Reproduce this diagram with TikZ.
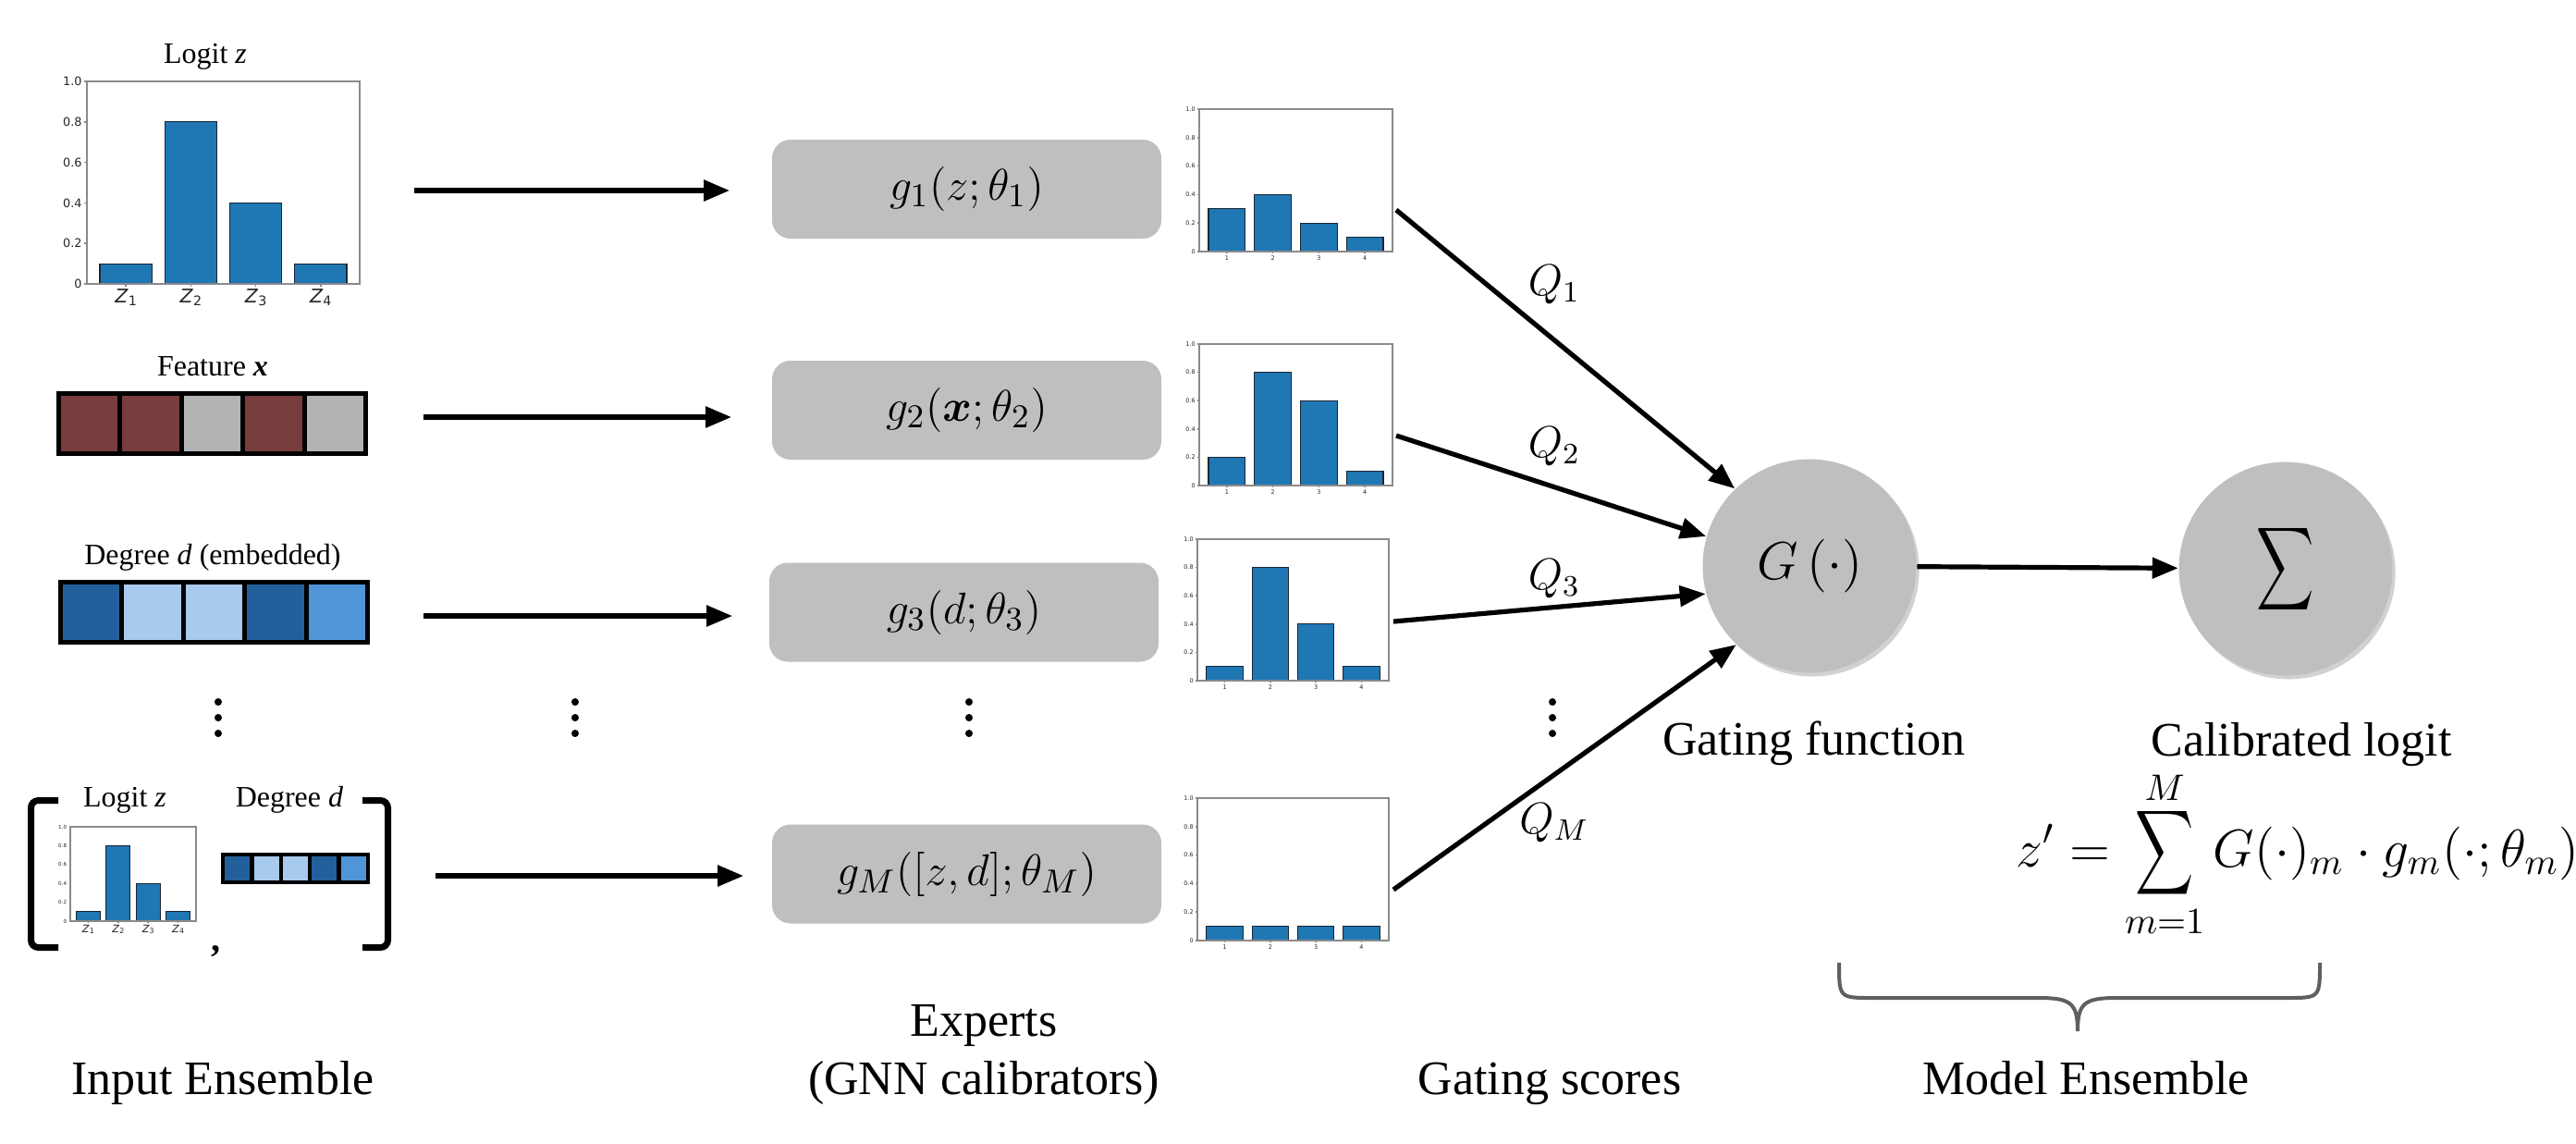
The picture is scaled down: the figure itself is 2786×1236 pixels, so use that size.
\documentclass[tikz,border=0pt]{standalone}
\usepackage{exscale}
\usepackage{amsmath}
\usepackage{bm}
\usepackage{fontspec}
\setmainfont{Liberation Serif}
\newfontfamily\tickfont{DejaVu Sans}
\usepackage{graphicx}
\usetikzlibrary{arrows.meta,shadows}
\definecolor{boxgray}{HTML}{BFBFBF}
\definecolor{barblue}{HTML}{1F77B4}
\definecolor{baredge}{HTML}{1B2633}
\definecolor{framegray}{HTML}{8A8A8A}
\definecolor{featred}{HTML}{7A3D3D}
\definecolor{cellgray}{HTML}{B3B3B3}
\definecolor{bdark}{HTML}{23609B}
\definecolor{blight}{HTML}{A8CAEC}
\definecolor{bmid}{HTML}{4F95D8}
\definecolor{bracegray}{HTML}{5F5F5F}
\newcommand{\zlab}[1]{\textit{Z}\raisebox{-0.3ex}{\scalebox{0.7}{#1}}}
\newcommand{\bigsum}[2]{\mathop{\vcenter{\hbox{\scalebox{#1}[#2]{$\displaystyle\sum$}}}}}
% #1 x-left #2 y-top #3 x-right #4 y-bottom #5 heights #6 xlabels #7 tick length #8 tick font #9 xlabel font
\newcommand{\barplot}[9]{%
  \pgfmathsetmacro\cXa{#1}\pgfmathsetmacro\cYa{#2}%
  \pgfmathsetmacro\cXb{#3}\pgfmathsetmacro\cYb{#4}%
  \pgfmathsetmacro\cBw{(\cXb-\cXa)/4.2}\pgfmathsetmacro\cBh{\cYb-\cYa}%
  \foreach \cH [count=\cI from 0] in {#5}{%
    \draw[barst] ({\cXa+(\cI+0.2)*\cBw},\cYb) rectangle ({\cXa+(\cI+1)*\cBw},{\cYb-\cH*\cBh});}%
  \draw[framest] (\cXa,\cYa) rectangle (\cXb,\cYb);%
  \foreach \cV/\cT in {0/0,0.2/0.2,0.4/0.4,0.6/0.6,0.8/0.8,1/1.0}{%
    \draw[framest] (\cXa,{\cYb-\cV*\cBh}) -- ++(-#7,0) node[left,inner sep=0.4pt,text=black!85,font={\tickfont#8}] {\cT};}%
  \foreach \cL [count=\cI from 0] in {#6}{%
    \draw[framest] ({\cXa+(\cI+0.6)*\cBw},\cYb) -- ++(0,#7) node[below,inner sep=0.4pt,text=black!85,font={\tickfont#9}] {\cL};}%
}
\begin{document}
\begin{tikzpicture}[x=0.25pt,y=-0.25pt,
  arr/.style={line width=1.3pt,-{Triangle[length=7pt,width=5.5pt]}},
  expert/.style={rectangle,rounded corners=5pt,fill=boxgray,minimum width=105.25pt,minimum height=26.75pt,inner sep=0pt,font=\fontsize{12.5}{14}\selectfont},
  gate/.style={circle,fill=boxgray,minimum size=57.75pt,inner sep=0pt,drop shadow={opacity=0.18,shadow xshift=0.8pt,shadow yshift=-1pt,fill=black}},
  lbl/.style={anchor=base,inner sep=0pt,font=\fontsize{13}{15.6}\selectfont},
  ttl/.style={anchor=base,inner sep=0pt,font=\fontsize{8}{9.6}\selectfont},
  qlbl/.style={inner sep=0pt,font=\fontsize{11.5}{13}\selectfont},
  barst/.style={fill=barblue,draw=baredge,line width=0.3pt},
  framest/.style={draw=framegray,line width=0.4pt},
  cellst/.style={draw=black,line width=1.25pt},
  smallcell/.style={draw=black,line width=1.1pt},
  bracketst/.style={draw=black,line width=1.75pt,rounded corners=2pt},
  bracest/.style={draw=bracegray,line width=1pt},
]
\useasboundingbox (0,0) rectangle (2786,1236);

% ---------------- Input column ----------------
\node[ttl] (tlogit) at (222,68) {Logit \textit{z}};
\barplot{94}{88}{389}{307}{0.1,0.8,0.4,0.1}{\zlab{1},\zlab{2},\zlab{3},\zlab{4}}{3}{\fontsize{3.2}{3.8}\selectfont}{\fontsize{5.1}{6}\selectfont}

\node[ttl] (tfeat) at (230,406) {Feature \textbf{\textit{x}}};
\foreach \col [count=\cI from 0] in {featred,featred,cellgray,featred,cellgray}
  \draw[cellst,fill=\col] ({63.5+66.4*\cI},425.5) rectangle ++(66.4,65);

\node[ttl] (tdeg) at (230,610) {Degree \textit{d} (embedded)};
\foreach \col [count=\cI from 0] in {bdark,blight,blight,bdark,bmid}
  \draw[cellst,fill=\col] ({65.5+66.4*\cI},629.5) rectangle ++(66.4,65);

% bottom concatenated input
\draw[bracketst] (63,865.5) -- (33.5,865.5) -- (33.5,1024.5) -- (63,1024.5);
\draw[bracketst] (392,865.5) -- (419.5,865.5) -- (419.5,1024.5) -- (392,1024.5);
\node[ttl] (tlogit2) at (135,872) {Logit \textit{z}};
\node[ttl] (tdeg2) at (313,872) {Degree \textit{d}};
\barplot{76}{894}{212}{996}{0.1,0.8,0.4,0.1}{\zlab{1},\zlab{2},\zlab{3},\zlab{4}}{1.5}{\fontsize{1.4}{1.7}\selectfont}{\fontsize{2.8}{3.3}\selectfont}
\foreach \col [count=\cI from 0] in {bdark,blight,blight,bdark,bmid}
  \draw[smallcell,fill=\col] ({241.25+31.3*\cI},924.25) rectangle ++(31.3,29.5);
\node[anchor=base,inner sep=0pt,font=\fontsize{10}{12}\selectfont] (comma) at (233,1028) {\textbf{,}};

% ---------------- Experts ----------------
\node[expert] (e1) at (1045.5,204.5) {$g_1(z;\theta_1)$};
\node[expert] (e2) at (1045.5,443.5) {$g_2(\bm{x};\theta_2)$};
\node[expert] (e3) at (1042.5,662) {$g_3(d;\theta_3)$};
\node[expert] (eM) at (1045.5,945) {$g_M([z,d];\theta_M)$};

\coordinate (a1s) at (448,206);
\coordinate (a2s) at (458,451);
\coordinate (a3s) at (458,666);
\coordinate (aMs) at (471,947);
\draw[arr,shorten >=11.25pt] (a1s) -- (a1s -| e1.west);
\draw[arr,shorten >=10.75pt] (a2s) -- (a2s -| e2.west);
\draw[arr,shorten >=9.75pt] (a3s) -- (a3s -| e3.west);
\draw[arr,shorten >=7.5pt] (aMs) -- (aMs -| eM.west);

% dots
\foreach \dx in {236,622,1048,1679}
  \foreach \dy in {759,776,793}
    \fill (\dx,\dy) circle[radius=4];

% ---------------- Gating scores ----------------
\barplot{1297}{118}{1506}{272}{0.3,0.4,0.2,0.1}{1,2,3,4}{2}{\fontsize{1.6}{2}\selectfont}{\fontsize{1.6}{2}\selectfont}
\barplot{1297}{372}{1506}{525}{0.2,0.8,0.6,0.1}{1,2,3,4}{2}{\fontsize{1.6}{2}\selectfont}{\fontsize{1.6}{2}\selectfont}
\barplot{1295}{583}{1502}{736}{0.1,0.8,0.4,0.1}{1,2,3,4}{2}{\fontsize{1.6}{2}\selectfont}{\fontsize{1.6}{2}\selectfont}
\barplot{1295}{863}{1502}{1017}{0.1,0.1,0.1,0.1}{1,2,3,4}{2}{\fontsize{1.6}{2}\selectfont}{\fontsize{1.6}{2}\selectfont}

% ---------------- Gating function and sum ----------------
\node[gate] (G) at (1957,612) {\fontsize{15}{17}\selectfont$G\,(\cdot)$};
\node[gate] (S) at (2472,615) {\fontsize{14}{17}\selectfont$\bigsum{0.75}{1.09}$};

\coordinate (q1s) at (1510,227);
\coordinate (q2s) at (1510,471);
\coordinate (q3s) at (1507,672);
\coordinate (qMs) at (1507,962);
\draw[arr] (q1s) -- (G.134);
\draw[arr] (q2s) -- (G.164);
\draw[arr] (q3s) -- (G.195);
\draw[arr] (qMs) -- (G.227);
\node[qlbl] (lq1) at (1681,308) {$Q_1$};
\node[qlbl] (lq2) at (1681,483) {$Q_2$};
\node[qlbl] (lq3) at (1681,626) {$Q_3$};
\node[qlbl] (lqM) at (1681,890) {$Q_M$};

\draw[arr] (G) -- (S);

\node[lbl] (gf) at (1962,816) {Gating function};
\node[lbl] (cl) at (2489,817) {Calibrated logit};
\node[anchor=base,inner sep=0pt,font=\fontsize{14}{16}\selectfont] (formula) at (2485,937)
  {$\displaystyle z' = \bigsum{0.76}{1.11}_{m=1}^{\raisebox{-2.6pt}[0pt][0pt]{$\scriptstyle M$}} G(\cdot)_m \cdot g_m(\cdot;\theta_m)$};

% brace
\draw[bracest] (1989,1041) .. controls (1989,1079) and (1989,1079) .. (2025,1079) -- (2205,1079)
  .. controls (2240,1079) and (2247,1085) .. (2247,1115)
  .. controls (2247,1085) and (2254,1079) .. (2289,1079) -- (2473,1079)
  .. controls (2509,1079) and (2509,1079) .. (2509,1041);

% ---------------- Column captions ----------------
\node[lbl] (capin) at (241,1183) {Input Ensemble};
\node[lbl] (capex) at (1064,1120) {Experts};
\node[lbl] (capgnn) at (1064,1183) {(GNN calibrators)};
\node[lbl] (capgs) at (1676,1183) {Gating scores};
\node[lbl] (capme) at (2256,1183) {Model Ensemble};
\end{tikzpicture}
\end{document}
